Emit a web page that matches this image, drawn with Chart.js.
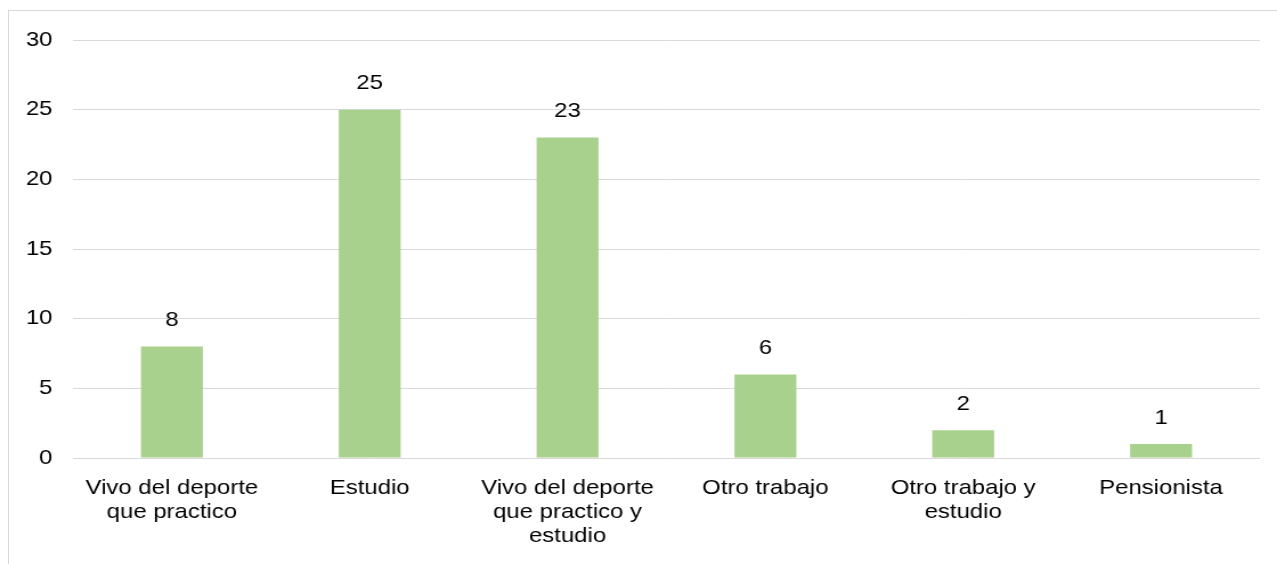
<!DOCTYPE html>
<html lang="es">
<head>
    <meta charset="UTF-8">
    <title>Ocupación</title>
    <script src="https://cdn.jsdelivr.net/npm/chart.js"></script>
    <style>
        html, body {
            margin: 0;
            padding: 0;
            background: #fff;
            overflow: hidden;
        }
        #frame {
            position: absolute;
            left: 8px;
            top: 10px;
            width: 1300px;
            height: 600px;
            border: 1px solid #d9d9d9;
        }
        /* el original tiene el texto algo ensanchado en horizontal */
        #wrap {
            position: absolute;
            left: 0;
            top: 0;
            width: 1120px;
            height: 564px;
            transform: scaleX(1.1402);
            transform-origin: 0 0;
        }
    </style>
</head>
<body>
<div id="frame"></div>
<div id="wrap"><canvas id="ocupacionChart"></canvas></div>

<script>
    // categorias y valores
    const categorias = [
        ["Vivo del deporte", "que practico"],
        ["Estudio"],
        ["Vivo del deporte", "que practico y", "estudio"],
        ["Otro trabajo"],
        ["Otro trabajo y", "estudio"],
        ["Pensionista"]
    ];
    const valores = [8, 25, 23, 6, 2, 1];
    const yTicks = [0, 5, 10, 15, 20, 25, 30];

    const fuente = { family: "'Liberation Sans', Arial, sans-serif", size: 21, lineHeight: 1.14 };

    // etiquetas de valor encima de cada barra
    const etiquetasValor = {
        id: 'etiquetasValor',
        afterDatasetsDraw(chart) {
            const ctx = chart.ctx;
            const meta = chart.getDatasetMeta(0);
            ctx.save();
            ctx.font = fuente.size + "px " + fuente.family;
            ctx.fillStyle = "#000";
            ctx.textAlign = "center";
            ctx.textBaseline = "middle";
            meta.data.forEach((bar, i) => {
                ctx.fillText(String(valores[i]), bar.x, bar.y - 26);
            });
            ctx.restore();
        }
    };

    new Chart(document.getElementById("ocupacionChart"), {
        type: 'bar',
        data: {
            labels: categorias,
            datasets: [{
                data: valores,
                backgroundColor: "#A9D18E",
                barPercentage: 0.313,
                categoryPercentage: 1
            }]
        },
        options: {
            responsive: true,
            maintainAspectRatio: false,
            animation: false,
            layout: {
                padding: { top: 40, right: 15, bottom: 0, left: 0 }
            },
            plugins: {
                legend: { display: false },
                tooltip: { enabled: false }
            },
            scales: {
                x: {
                    grid: { display: false },
                    border: { display: false },
                    ticks: {
                        color: "#000",
                        font: fuente,
                        padding: 10,
                        maxRotation: 0,
                        autoSkip: false
                    },
                    afterFit(scale) { scale.height = 106; }
                },
                y: {
                    min: 0,
                    max: 30,
                    afterBuildTicks(scale) {
                        scale.ticks = yTicks.map(v => ({ value: v }));
                    },
                    grid: { color: "#d9d9d9", lineWidth: 1, drawTicks: false },
                    border: { display: false },
                    ticks: {
                        color: "#000",
                        font: fuente,
                        padding: 18
                    },
                    afterFit(scale) { scale.width = 64; }
                }
            }
        },
        plugins: [etiquetasValor]
    });
</script>
</body>
</html>
